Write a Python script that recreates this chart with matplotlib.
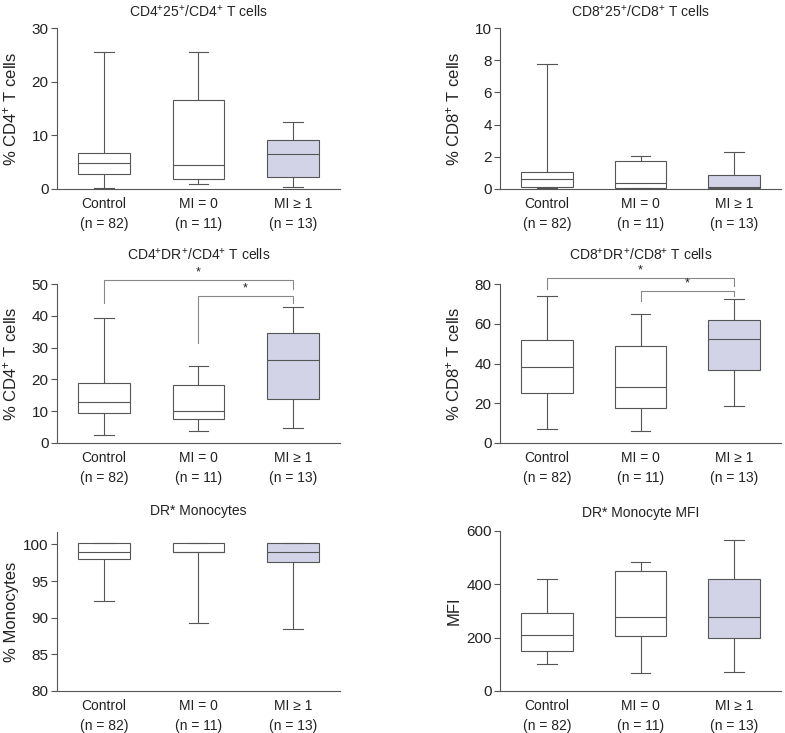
import matplotlib
matplotlib.use("Agg")
import matplotlib.pyplot as plt

plt.rcParams['font.family'] = ['Liberation Sans', 'DejaVu Sans']
plt.rcParams['mathtext.fontset'] = 'custom'
plt.rcParams['mathtext.rm'] = 'Liberation Sans'
plt.rcParams['mathtext.it'] = 'Liberation Sans'

groups = ["Control\n(n = 82)", "MI = 0\n(n = 11)", "MI \u2265 1\n(n = 13)"]

titles = [
    r"CD4$^{+}$25$^{+}$/CD4$^{+}$ T cells",
    r"CD8$^{+}$25$^{+}$/CD8$^{+}$ T cells",
    r"CD4$^{+}$DR$^{+}$/CD4$^{+}$ T cells",
    r"CD8$^{+}$DR$^{+}$/CD8$^{+}$ T cells",
    "DR* Monocytes",
    "DR* Monocyte MFI",
]
ylabels = [
    r"% CD4$^{+}$ T cells",
    r"% CD8$^{+}$ T cells",
    r"% CD4$^{+}$ T cells",
    r"% CD8$^{+}$ T cells",
    "% Monocytes",
    "MFI",
]

# per panel: [Control, MI=0, MI>=1]
whislo = [
    [0.1, 1.0, 0.3],
    [0.05, 0.05, 0.02],
    [2.4, 3.8, 4.8],
    [7.0, 6.0, 18.7],
    [92.3, 89.3, 88.5],
    [101, 69, 71],
]
q1 = [
    [2.8, 1.8, 2.3],
    [0.12, 0.06, 0.05],
    [9.3, 7.4, 13.7],
    [25.2, 17.6, 36.7],
    [98.0, 99.0, 97.6],
    [149, 206, 198],
]
med = [
    [4.9, 4.5, 6.5],
    [0.65, 0.35, 0.15],
    [13.0, 10.2, 26.0],
    [38.3, 28.0, 52.3],
    [99.0, 99.0, 99.0],
    [209, 279, 279],
]
q3 = [
    [6.8, 16.5, 9.1],
    [1.04, 1.72, 0.85],
    [19.0, 18.2, 34.6],
    [51.7, 48.7, 62.1],
    [100.2, 100.2, 100.2],
    [294, 449, 419],
]
whishi = [
    [25.5, 25.5, 12.4],
    [7.76, 2.03, 2.27],
    [39.2, 24.1, 42.8],
    [73.8, 65.1, 72.5],
    [100.2, 100.2, 100.2],
    [420, 482, 566],
]
ylims = [(0, 30), (0, 10), (0, 50), (0, 80), (80, 101.7), (0, 600)]
yticks = [
    [0, 10, 20, 30],
    [0, 2, 4, 6, 8, 10],
    [0, 10, 20, 30, 40, 50],
    [0, 20, 40, 60, 80],
    [80, 85, 90, 95, 100],
    [0, 200, 400, 600],
]

# significance brackets: (left group, right group, bar y, left leg end, right leg end)
brackets = {
    2: [(0, 2, 51.2, 44.0, 48.4), (1, 2, 46.1, 31.4, 44.0)],
    3: [(0, 2, 83.0, 77.5, 78.9), (1, 2, 76.3, 71.3, 74.2)],
}

W, H = 785, 733
fig = plt.figure(figsize=(W / 100, H / 100), dpi=100)

# axes rectangles in pixels: left, right, top, bottom
boxes_px = [
    (57, 340, 28, 189),
    (500, 781, 28, 189),
    (57, 340, 284, 443),
    (500, 781, 284, 443),
    (57, 340, 532, 691),
    (500, 781, 531, 691),
]
title_y = [12, 12, 255, 255, 511, 513]

line_col = "#555555"
text_col = "#222222"
fills = ["white", "white", "#d3d3e8"]

for i in range(6):
    l, r, t, b = boxes_px[i]
    ax = fig.add_axes([l / W, 1 - b / H, (r - l) / W, (b - t) / H])
    stats = []
    for j in range(3):
        stats.append({
            "med": med[i][j], "q1": q1[i][j], "q3": q3[i][j],
            "whislo": whislo[i][j], "whishi": whishi[i][j], "fliers": [],
        })
    bp = ax.bxp(stats, positions=[0, 1, 2], widths=0.55, capwidths=0.21,
                patch_artist=True, showfliers=False,
                boxprops=dict(edgecolor=line_col, linewidth=0.8),
                medianprops=dict(color=line_col, linewidth=0.8),
                whiskerprops=dict(color=line_col, linewidth=0.8),
                capprops=dict(color=line_col, linewidth=0.8))
    for patch, fc in zip(bp["boxes"], fills):
        patch.set_facecolor(fc)

    ax.set_xlim(-0.5, 2.5)
    ax.set_ylim(*ylims[i])
    ax.set_yticks(yticks[i])
    ax.set_xticks([0, 1, 2])
    ax.set_xticklabels(groups, fontsize=10, linespacing=1.5)
    ax.tick_params(axis="x", length=0, pad=6, colors=text_col)
    ax.tick_params(axis="y", length=4, width=0.8, labelsize=11, color=line_col,
                   labelcolor=text_col, pad=2)
    for s in ["top", "right"]:
        ax.spines[s].set_visible(False)
    for s in ["left", "bottom"]:
        ax.spines[s].set_color(line_col)
        ax.spines[s].set_linewidth(0.8)

    fig.text((l + r) / 2 / W, 1 - title_y[i] / H, titles[i], ha="center",
             va="center", fontsize=10, color=text_col)
    ax.set_ylabel(ylabels[i], fontsize=12, color=text_col)
    ax.yaxis.set_label_coords(-38 / (r - l), 0.5)

    for (g0, g1, yb, y0, y1) in brackets.get(i, []):
        ax.plot([g0, g0, g1, g1], [y0, yb, yb, y1], color="#888888",
                linewidth=0.8, clip_on=False)
        span = ylims[i][1] - ylims[i][0]
        ax.text((g0 + g1) / 2, yb + 0.012 * span, "*", ha="center", va="bottom",
                fontsize=9, color=text_col)

fig.savefig("out.png", dpi=100)
